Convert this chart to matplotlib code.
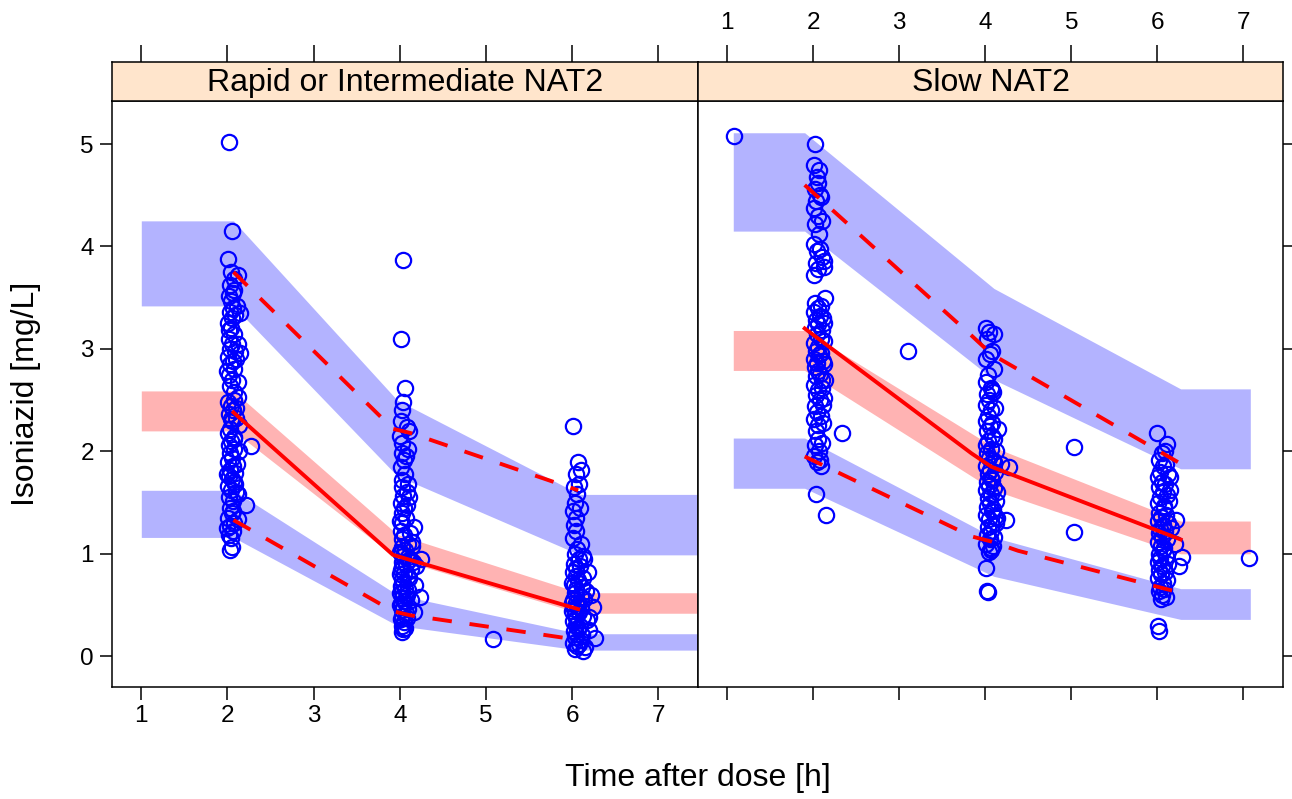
import matplotlib
matplotlib.use("Agg")
import matplotlib.pyplot as plt

plt.rcParams['font.family'] = ['Liberation Sans', 'DejaVu Sans']

# ---------------- data ----------------
panel_titles = ["Rapid or Intermediate NAT2", "Slow NAT2"]
x_ticks = [1, 2, 3, 4, 5, 6, 7]
y_ticks = [0, 1, 2, 3, 4, 5]

# Rapid / intermediate: observations
rap2_t = [2.02, 2.05, 2.01, 2.04, 2.12, 2.08, 2.03, 2.06, 2.02, 2.04,
          2.06, 2.03, 2.09, 2.05, 2.01, 2.04, 2.07, 2.02, 2.05, 2.03,
          2.14, 2.01, 2.06, 2.03, 2.08, 2.02, 2.05, 2.03, 2.07, 2.12,
          2.01, 2.04, 2.06, 2.02, 2.10, 2.05, 2.13, 2.03, 2.01, 2.07,
          2.04, 2.02, 2.27, 2.08, 2.03, 2.05, 2.01, 2.06, 2.03, 2.09,
          2.02, 2.05, 2.07, 2.01, 2.04, 2.12, 2.02, 2.06, 2.22, 2.03,
          2.05, 2.01, 2.08, 2.03, 2.06, 2.02, 2.05, 2.03, 2.10, 2.08,
          2.08, 2.11, 2.02, 2.09, 2.12, 2.10, 2.07, 2.11, 2.09, 2.06,
          2.15, 2.12, 2.00, 2.04, 2.13, 2.00, 2.10, 2.12, 2.00, 2.04]
rap2_c = [5.02, 4.15, 3.88, 3.75, 3.72, 3.68, 3.62, 3.55, 3.52, 3.47,
          3.40, 3.36, 3.33, 3.30, 3.25, 3.20, 3.15, 3.10, 3.05, 3.00,
          2.96, 2.92, 2.88, 2.85, 2.80, 2.75, 2.70, 2.64, 2.58, 2.53,
          2.48, 2.44, 2.40, 2.36, 2.33, 2.30, 2.26, 2.22, 2.18, 2.14,
          2.10, 2.06, 2.05, 2.02, 1.98, 1.94, 1.90, 1.86, 1.82, 1.79,
          1.76, 1.73, 1.70, 1.66, 1.62, 1.58, 1.55, 1.52, 1.48, 1.45,
          1.40, 1.35, 1.30, 1.27, 1.22, 1.18, 1.07, 1.04, 2.90, 2.50,
          3.58, 3.42, 3.18, 2.98, 2.68, 2.42, 2.12, 1.88, 1.68, 1.42,
          3.35, 3.05, 2.78, 2.32, 2.00, 1.78, 1.60, 1.34, 1.25, 1.15]
rap4_t = [4.04, 4.01, 4.06, 4.04, 4.02, 4.01, 4.08, 4.11, 4.00, 4.03,
          4.10, 4.02, 4.05, 4.01, 4.06, 4.03, 4.02, 4.08, 4.04, 4.01,
          4.05, 4.02, 4.07, 4.03, 4.16, 4.01, 4.05, 4.03, 4.09, 4.02,
          4.06, 4.01, 4.04, 4.12, 4.02, 4.07, 4.03, 4.01, 4.05, 4.09,
          4.02, 4.04, 4.01, 4.06, 4.03, 4.08, 4.02, 4.05, 4.01, 4.04,
          4.02, 4.07, 4.03, 4.01, 4.05, 4.02, 4.04, 4.03, 4.14, 4.19,
          4.23, 4.11, 4.25, 4.18,
          4.07, 4.10, 4.08, 4.12, 4.14, 4.10, 4.13, 4.11, 4.09, 4.13,
          4.10, 4.08, 4.06, 4.00, 4.00, 4.00, 4.00, 4.00, 4.15, 4.17]
rap4_c = [3.87, 3.10, 2.62, 2.48, 2.40, 2.30, 2.24, 2.20, 2.15, 2.08,
          2.02, 1.98, 1.92, 1.85, 1.78, 1.72, 1.65, 1.60, 1.56, 1.50,
          1.45, 1.40, 1.35, 1.30, 1.26, 1.22, 1.18, 1.14, 1.10, 1.07,
          1.04, 1.01, 0.98, 0.95, 0.92, 0.90, 0.87, 0.84, 0.81, 0.78,
          0.75, 0.72, 0.69, 0.66, 0.63, 0.60, 0.57, 0.54, 0.51, 0.48,
          0.45, 0.42, 0.39, 0.36, 0.33, 0.30, 0.27, 0.24, 1.12, 0.88,
          0.58, 1.55, 0.95, 0.70,
          1.95, 1.68, 1.48, 1.20, 1.08, 0.97, 0.85, 0.76, 0.65, 0.55,
          0.46, 0.37, 0.28, 1.32, 1.02, 0.80, 0.62, 0.50, 0.92, 0.43]
rap6_t = [6.01, 6.07, 6.10, 6.05, 6.02, 6.06, 6.03, 6.01, 6.05, 6.02,
          6.04, 6.01, 6.06, 6.03, 6.08, 6.02, 6.05, 6.01, 6.04, 6.07,
          6.02, 6.05, 6.03, 6.10, 6.01, 6.04, 6.06, 6.02, 6.08, 6.03,
          6.05, 6.01, 6.04, 6.07, 6.02, 6.05, 6.03, 6.10, 6.01, 6.06,
          6.03, 6.12, 6.22, 6.24, 6.26, 6.18, 6.20, 6.14, 5.08,
          6.10, 6.12, 6.09, 6.13, 6.11, 6.14, 6.10, 6.12, 6.09, 6.11,
          6.08, 6.15, 6.16, 6.17, 6.20, 6.00, 6.00, 6.00, 6.08, 6.09]
rap6_c = [2.25, 1.90, 1.82, 1.78, 1.65, 1.58, 1.50, 1.42, 1.35, 1.28,
          1.22, 1.15, 1.05, 1.00, 0.95, 0.90, 0.86, 0.82, 0.78, 0.74,
          0.70, 0.66, 0.62, 0.58, 0.55, 0.52, 0.49, 0.46, 0.43, 0.40,
          0.37, 0.34, 0.31, 0.28, 0.25, 0.22, 0.19, 0.16, 0.13, 0.10,
          0.07, 0.05, 0.60, 0.48, 0.18, 0.82, 0.38, 0.95, 0.17,
          1.10, 0.98, 0.88, 0.76, 0.68, 0.56, 0.47, 0.39, 0.30, 0.21,
          0.12, 0.09, 0.64, 0.35, 0.26, 0.72, 0.52, 0.44, 1.68, 1.45]

# Slow: observations
slow2_t = [1.08, 2.02, 2.01, 2.04, 2.06, 2.02, 2.08, 2.03, 2.01, 2.05,
           2.02, 2.07, 2.01, 2.04, 2.10, 2.03, 2.06, 2.01, 2.14, 2.02,
           2.05, 2.01, 2.08, 2.03, 2.06, 2.02, 2.04, 2.09, 2.01, 2.05,
           2.03, 2.07, 2.01, 2.04, 2.02, 2.06, 2.03, 2.10, 2.01, 2.05,
           2.03, 2.08, 2.02, 2.04, 2.01, 2.06, 2.03, 2.05, 2.02, 2.07,
           2.01, 2.04, 2.09, 2.03, 2.15, 2.33, 3.10, 2.12, 2.11, 2.12,
           2.07, 2.09, 2.10, 2.08, 2.12, 2.09, 2.11, 2.10, 2.12, 2.09,
           2.11, 2.08, 2.10, 2.13, 2.09, 2.11, 2.10, 2.08, 2.13, 2.14]
slow2_c = [5.08, 5.00, 4.80, 4.68, 4.62, 4.56, 4.50, 4.44, 4.38, 4.30,
           4.22, 4.12, 4.02, 3.96, 3.90, 3.84, 3.78, 3.72, 3.50, 3.45,
           3.40, 3.36, 3.32, 3.28, 3.24, 3.20, 3.15, 3.10, 3.06, 3.02,
           2.98, 2.94, 2.90, 2.86, 2.82, 2.78, 2.74, 2.70, 2.65, 2.60,
           2.55, 2.50, 2.44, 2.38, 2.32, 2.26, 2.20, 2.12, 2.06, 2.00,
           1.95, 1.90, 1.86, 1.58, 1.38, 2.18, 2.98, 3.86, 2.45, 2.85,
           4.75, 4.48, 4.25, 3.98, 3.80, 3.42, 3.30, 3.18, 3.08, 2.96,
           2.88, 2.76, 2.62, 2.52, 2.35, 2.28, 2.08, 1.92, 3.25, 2.70]
slow4_t = [4.01, 4.04, 4.10, 4.02, 4.05, 4.01, 4.03, 4.01, 4.06, 4.02,
           4.04, 4.01, 4.07, 4.03, 4.01, 4.05, 4.02, 4.08, 4.03, 4.01,
           4.06, 4.02, 4.04, 4.10, 4.01, 4.05, 4.03, 4.07, 4.02, 4.04,
           4.01, 4.06, 4.03, 4.05, 4.02, 4.08, 4.01, 4.04, 4.12, 4.03,
           4.06, 4.02, 4.05, 4.01, 4.07, 4.04, 4.01, 4.02, 4.03, 4.28,
           4.14, 4.24, 5.03, 5.03, 4.08, 4.13,
           4.08, 4.10, 4.09, 4.11, 4.08, 4.10, 4.12, 4.09, 4.11, 4.08,
           4.10, 4.12, 4.09, 4.11, 4.08, 4.10, 4.09, 4.06, 4.18, 4.15]
slow4_c = [3.20, 3.17, 3.15, 3.10, 2.95, 2.90, 2.75, 2.68, 2.62, 2.56,
           2.50, 2.45, 2.40, 2.35, 2.30, 2.25, 2.20, 2.15, 2.10, 2.06,
           2.02, 1.98, 1.94, 1.90, 1.86, 1.82, 1.78, 1.74, 1.70, 1.66,
           1.62, 1.58, 1.54, 1.50, 1.46, 1.42, 1.38, 1.34, 1.30, 1.26,
           1.22, 1.18, 1.14, 1.10, 1.06, 1.02, 0.86, 0.64, 0.63, 1.85,
           1.35, 1.33, 2.04, 1.21, 2.60, 1.60,
           2.98, 2.80, 2.58, 2.42, 2.28, 2.12, 2.00, 1.92, 1.80, 1.72,
           1.64, 1.52, 1.44, 1.36, 1.28, 1.16, 1.08, 1.04, 1.88, 2.22]
slow6_t = [6.00, 6.11, 6.05, 6.02, 6.07, 6.03, 6.01, 6.05, 6.02, 6.06,
           6.03, 6.01, 6.08, 6.02, 6.04, 6.01, 6.06, 6.03, 6.02, 6.05,
           6.01, 6.04, 6.07, 6.02, 6.03, 6.01, 6.05, 6.02, 6.04, 6.01,
           6.06, 6.03, 6.02, 6.05, 6.04, 6.01, 6.02, 6.29, 6.25, 6.20,
           6.22, 6.15, 7.06,
           6.09, 6.10, 6.12, 6.09, 6.11, 6.08, 6.10, 6.12, 6.09, 6.11,
           6.08, 6.10, 6.12, 6.09, 6.11, 6.08, 6.10, 6.14, 6.16, 6.15]
slow6_c = [2.18, 2.07, 1.98, 1.92, 1.86, 1.80, 1.75, 1.70, 1.65, 1.60,
           1.55, 1.50, 1.45, 1.40, 1.36, 1.32, 1.28, 1.24, 1.20, 1.16,
           1.12, 1.08, 1.04, 1.00, 0.96, 0.92, 0.88, 0.84, 0.80, 0.76,
           0.72, 0.68, 0.64, 0.60, 0.56, 0.30, 0.25, 0.97, 0.88, 1.10,
           1.33, 1.75, 0.96,
           2.00, 1.88, 1.78, 1.68, 1.57, 1.47, 1.38, 1.30, 1.22, 1.14,
           1.06, 0.98, 0.90, 0.82, 0.74, 0.66, 0.58, 1.52, 1.25, 1.62]

# Rapid / intermediate: simulated prediction intervals (band vertices)
rap_band_t = [1.00, 2.07, 3.97, 6.09, 7.60]
rap_hi_top = [4.25, 4.25, 2.50, 1.58, 1.58]
rap_hi_bot = [3.42, 3.42, 1.76, 0.99, 0.99]
rap_md_top = [2.59, 2.59, 1.19, 0.62, 0.62]
rap_md_bot = [2.20, 2.20, 0.95, 0.42, 0.42]
rap_lo_top = [1.62, 1.62, 0.60, 0.22, 0.22]
rap_lo_bot = [1.16, 1.16, 0.30, 0.06, 0.06]
# Rapid / intermediate: observed percentiles
rap_line_t = [2.07, 3.92, 4.12, 6.07]
rap_p95 = [3.75, 2.22, 2.18, 1.62]
rap_p50 = [2.38, 0.99, 0.94, 0.46]
rap_p05 = [1.33, 0.44, 0.40, 0.16]

# Slow: simulated prediction intervals
slow_band_t = [1.07, 1.90, 4.10, 6.27, 7.08]
slow_hi_top = [5.11, 5.11, 3.59, 2.61, 2.61]
slow_hi_bot = [4.15, 4.15, 2.70, 1.83, 1.83]
slow_md_top = [3.18, 3.18, 2.04, 1.32, 1.32]
slow_md_bot = [2.79, 2.79, 1.62, 1.00, 1.00]
slow_lo_top = [2.13, 2.13, 1.16, 0.66, 0.66]
slow_lo_bot = [1.64, 1.64, 0.78, 0.36, 0.36]
# Slow: observed percentiles
slow_line_t = [1.90, 3.84, 4.07, 4.38, 6.27]
slow_p95 = [4.60, 3.13, 2.95, 2.80, 1.88]
slow_p50 = [3.20, 1.98, 1.85, 1.75, 1.14]
slow_p05 = [1.95, 1.17, 1.12, 1.03, 0.62]

# ---------------- style ----------------
W, H = 1292, 799
BLUE_BAND = '#B3B3FF'
RED_BAND = '#FFB3B3'
STRIP = '#FFE5CC'
TICK_FS = 17.5
LAB_FS = 23
XLIM = (0.66, 7.46)
YLIM = (-0.30, 5.42)

fig = plt.figure(figsize=(W / 100, H / 100), dpi=100)

def fx(px):
    return px / W

def fy(py):
    return 1 - py / H

panel_left = [112, 698]
panel_right = [698, 1283]
p_top, p_bot = 101, 687
s_top = 62

panels = [
    dict(t=[rap2_t, rap4_t, rap6_t], c=[rap2_c, rap4_c, rap6_c],
         bt=rap_band_t, bands=[(rap_hi_bot, rap_hi_top, BLUE_BAND),
                               (rap_md_bot, rap_md_top, RED_BAND),
                               (rap_lo_bot, rap_lo_top, BLUE_BAND)],
         lt=rap_line_t, lines=[(rap_p95, '--'), (rap_p50, '-'), (rap_p05, '--')]),
    dict(t=[slow2_t, slow4_t, slow6_t], c=[slow2_c, slow4_c, slow6_c],
         bt=slow_band_t, bands=[(slow_hi_bot, slow_hi_top, BLUE_BAND),
                                (slow_md_bot, slow_md_top, RED_BAND),
                                (slow_lo_bot, slow_lo_top, BLUE_BAND)],
         lt=slow_line_t, lines=[(slow_p95, '--'), (slow_p50, '-'), (slow_p05, '--')]),
]

for i, pd in enumerate(panels):
    x0 = fx(panel_left[i])
    w = fx(panel_right[i]) - x0
    ax = fig.add_axes([x0, fy(p_bot), w, fy(p_top) - fy(p_bot)])
    ax.set_xlim(*XLIM)
    ax.set_ylim(*YLIM)
    for lo, hi, col in pd['bands']:
        ax.fill_between(pd['bt'], lo, hi, color=col, lw=0, zorder=1)
    for tt, cc in zip(pd['t'], pd['c']):
        ax.plot(tt, cc, ls='none', marker='o', ms=11, mfc='none',
                mec='#0000FF', mew=1.6, zorder=2)
    for vals, ls in pd['lines']:
        if ls == '-':
            ax.plot(pd['lt'], vals, color='#FF0000', lw=2.8, zorder=3,
                    solid_joinstyle='round')
        else:
            ax.plot(pd['lt'], vals, color='#FF0000', lw=2.8, zorder=3,
                    dashes=(5.0, 4.6), dash_capstyle='butt')
    ax.set_xticks(x_ticks)
    ax.set_yticks(y_ticks)
    for sp in ax.spines.values():
        sp.set_linewidth(1.1)
    ax.tick_params(direction='out', length=9, width=1.1, labelsize=TICK_FS, pad=4)
    if i == 0:
        ax.tick_params(left=True, labelleft=True, right=False, labelright=False,
                       bottom=True, labelbottom=True, top=False, labeltop=False)
    else:
        ax.tick_params(left=False, labelleft=False, right=True, labelright=False,
                       bottom=True, labelbottom=False, top=False, labeltop=False)

    sax = fig.add_axes([x0, fy(p_top), w, fy(s_top) - fy(p_top)])
    sax.set_facecolor(STRIP)
    sax.set_xlim(*XLIM)
    sax.set_yticks([])
    sax.set_xticks(x_ticks)
    for sp in sax.spines.values():
        sp.set_linewidth(1.1)
    sax.tick_params(direction='out', length=12, width=1.1, labelsize=TICK_FS, pad=8,
                    bottom=False, labelbottom=False, top=True, labeltop=(i == 1))
    sax.text(0.5, 0.47, panel_titles[i], transform=sax.transAxes, ha='center',
             va='center', fontsize=LAB_FS)

fig.text(fx(698), fy(778), "Time after dose [h]", ha='center', va='center', fontsize=LAB_FS)
fig.text(fx(26), fy(394), "Isoniazid [mg/L]", ha='center', va='center', rotation=90,
         fontsize=LAB_FS)

fig.savefig("out.png", dpi=100)
